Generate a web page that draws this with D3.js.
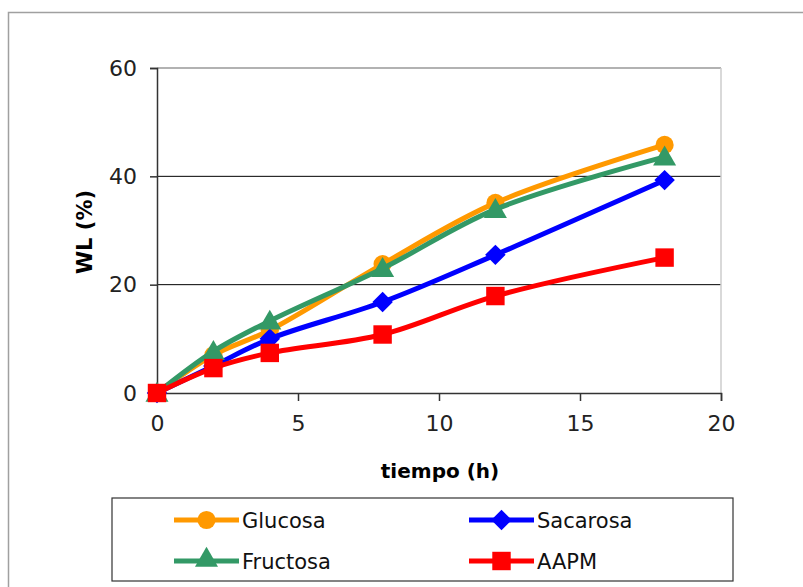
<!DOCTYPE html>
<html><head><meta charset="utf-8">
<script src="https://cdn.jsdelivr.net/npm/d3@7"></script>
<style>body{margin:0;background:#fff}svg{display:block}</style>
</head><body>
<script>
const times = [0, 2, 4, 8, 12, 18];
const glucosa = [0, 7.0, 11.6, 23.8, 35.1, 45.8];
const sacarosa = [0, 5.0, 10.0, 16.8, 25.5, 39.3];
const fructosa = [0, 7.7, 13.3, 23.0, 33.9, 43.6];
const aapm = [0, 4.6, 7.4, 10.8, 17.9, 25.0];
const xTicks = [0, 5, 10, 15, 20];
const yTicks = [0, 20, 40, 60];
const seriesNames = ["Glucosa", "Sacarosa", "Fructosa", "AAPM"];
const seriesColors = ["#FF9900", "#0000FF", "#339966", "#FF0000"];
const seriesSymbols = ["circle", "diamond", "triangle", "square"];

const W = 803, H = 587;
const font = "'DejaVu Sans', sans-serif";
const svg = d3.select("body").append("svg").attr("width", W).attr("height", H);

svg.append("rect").attr("x", 8.5).attr("y", 12.5).attr("width", 820).attr("height", 600)
  .attr("fill", "#fff").attr("stroke", "#a0a0a0").attr("stroke-width", 1.5);

const x = d3.scaleLinear().domain([0, 20]).range([157, 721]);
const y = d3.scaleLinear().domain([0, 60]).range([393, 68]);

// gridlines
svg.append("g").selectAll("line").data([20, 40]).join("line")
  .attr("x1", x(0)).attr("x2", x(20)).attr("y1", d => y(d)).attr("y2", d => y(d))
  .attr("stroke", "#000").attr("stroke-width", 1);
// plot border top/right
svg.append("line").attr("x1", x(0)).attr("x2", x(20)).attr("y1", y(60)).attr("y2", y(60))
  .attr("stroke", "#999").attr("stroke-width", 1.5);
svg.append("line").attr("x1", x(20)).attr("x2", x(20)).attr("y1", y(60)).attr("y2", y(0))
  .attr("stroke", "#ccc").attr("stroke-width", 1.5);

// axes
const yAxis = svg.append("g").attr("transform", `translate(${x(0)},0)`)
  .call(d3.axisLeft(y).tickValues(yTicks).tickSize(7).tickPadding(13).tickFormat(d3.format("d")));
const xAxis = svg.append("g").attr("transform", `translate(0,${y(0)})`)
  .call(d3.axisBottom(x).tickValues(xTicks).tickSize(8).tickPadding(14).tickFormat(d3.format("d")));
[yAxis, xAxis].forEach(a => {
  a.selectAll("path.domain").attr("stroke", "#333").attr("stroke-width", 1.5);
  a.selectAll(".tick line").attr("stroke", "#333").attr("stroke-width", 1.5);
  a.selectAll("text").attr("font-family", font).attr("font-size", 22).attr("fill", "#222");
});

// axis titles
svg.append("text").attr("x", 440).attr("y", 478).attr("text-anchor", "middle")
  .attr("font-family", font).attr("font-weight", "bold").attr("font-size", 20).text("tiempo (h)");
svg.append("text").attr("transform", "translate(92,232) rotate(-90)").attr("text-anchor", "middle")
  .attr("font-family", font).attr("font-weight", "bold").attr("font-size", 21).text("WL (%)");

const data = [glucosa, sacarosa, fructosa, aapm];
const symType = {circle: d3.symbolCircle, diamond: d3.symbolSquare, triangle: d3.symbolTriangle, square: d3.symbolSquare};
const symSize = {circle: 260, diamond: 210, triangle: 230, square: 340};
const symRot = {circle: 0, diamond: 45, triangle: 0, square: 0};
const symDy = {circle: 0, diamond: 0, triangle: 2, square: 0};
const line = d3.line().x(d => x(d[0])).y(d => y(d[1])).curve(d3.curveCatmullRom.alpha(0.5));

data.forEach((vals, i) => {
  const pts = times.map((t, j) => [t, vals[j]]);
  const g = svg.append("g");
  g.append("path").attr("d", line(pts)).attr("fill", "none")
    .attr("stroke", seriesColors[i]).attr("stroke-width", 5).attr("stroke-linejoin", "round");
  const s = seriesSymbols[i];
  g.selectAll("path.m").data(pts).join("path").attr("class", "m")
    .attr("transform", d => `translate(${x(d[0])},${y(d[1]) + symDy[s]}) rotate(${symRot[s]})`)
    .attr("d", d3.symbol().type(symType[s]).size(symSize[s]))
    .attr("fill", seriesColors[i]);
});

// legend
const lg = svg.append("g");
lg.append("rect").attr("x", 112).attr("y", 498).attr("width", 621).attr("height", 83)
  .attr("fill", "#fff").attr("stroke", "#333").attr("stroke-width", 1.2);
const legPos = [[174, 520], [469, 520], [174, 561], [469, 561]];
seriesNames.forEach((name, i) => {
  const [lx, ly] = legPos[i];
  lg.append("line").attr("x1", lx).attr("x2", lx + 65).attr("y1", ly).attr("y2", ly)
    .attr("stroke", seriesColors[i]).attr("stroke-width", 5);
  const s = seriesSymbols[i];
  lg.append("path").attr("transform", `translate(${lx + 32.5},${ly + (s === "triangle" ? -1 : 0)}) rotate(${symRot[s]})`)
    .attr("d", d3.symbol().type(symType[s]).size(symSize[s])).attr("fill", seriesColors[i]);
  lg.append("text").attr("x", lx + 68).attr("y", ly + 8).attr("font-family", font)
    .attr("font-size", 21).attr("fill", "#111").text(name);
});
</script>
</body></html>
